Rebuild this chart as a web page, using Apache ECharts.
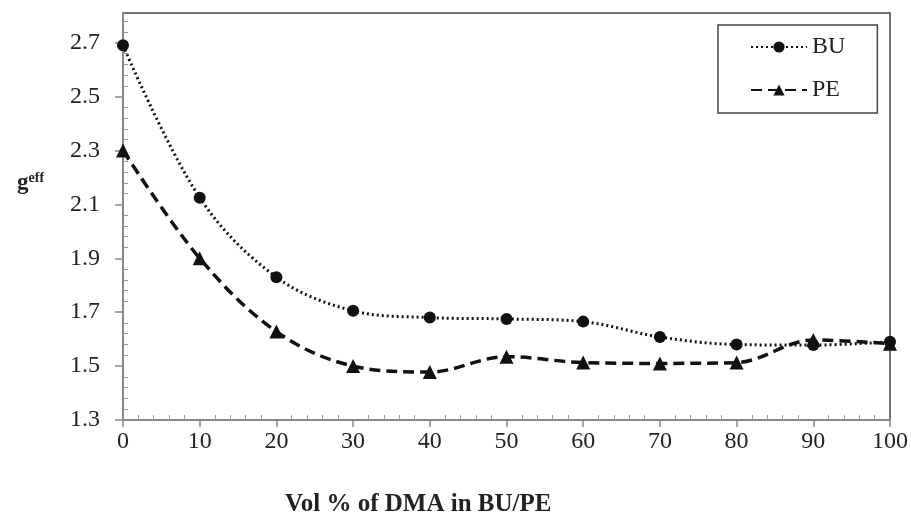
<!DOCTYPE html>
<html>
<head>
<meta charset="utf-8">
<script src="https://cdn.jsdelivr.net/npm/echarts@6/dist/echarts.min.js"></script>
<style>
  html, body { margin: 0; padding: 0; background: #fff; }
  #main { width: 911px; height: 520px; }
</style>
</head>
<body>
<div id="main"></div>
<script>
// data
const xValues = [0, 10, 20, 30, 40, 50, 60, 70, 80, 90, 100];
const buValues = [2.69, 2.125, 1.83, 1.705, 1.68, 1.675, 1.665, 1.608, 1.58, 1.578, 1.59];
const peValues = [2.30, 1.90, 1.628, 1.50, 1.478, 1.535, 1.513, 1.51, 1.513, 1.597, 1.583];

const font = "'Liberation Serif', 'DejaVu Serif', serif";
const pair = (arr) => xValues.map((x, i) => [x, arr[i]]);

let chart = echarts.init(document.getElementById("main"));

let option = {
  backgroundColor: "#fff",
  animation: false,
  title: [
    {
      text: "{g|g}{s|eff}",
      left: 12,
      top: 166,
      textStyle: {
        rich: {
          g: { fontFamily: font, fontWeight: "bold", fontSize: 23, color: "#222", verticalAlign: "bottom" },
          s: { fontFamily: font, fontWeight: "bold", fontSize: 14, color: "#222", verticalAlign: "top", padding: [0, 0, 10, 0] },
        },
      },
    },
    {
      text: "Vol % of DMA in BU/PE",
      left: 285,
      top: 492,
      padding: 0,
      textStyle: { fontFamily: font, fontWeight: "bold", fontSize: 25, color: "#222" },
    },
  ],
  legend: {
    orient: "vertical",
    left: 718,
    top: 25,
    padding: [10, 32, 11, 32],
    itemWidth: 56,
    itemHeight: 14,
    itemGap: 19,
    borderColor: "#444",
    borderWidth: 1.5,
    textStyle: { fontFamily: font, fontSize: 24, color: "#222" },
    data: ["BU", "PE"],
  },
  grid: {
    left: 123,
    right: 21,
    top: 13,
    bottom: 100,
    show: true,
    borderColor: "#444",
    borderWidth: 1.5,
  },
  xAxis: [
    {
      type: "value",
      min: 0,
      max: 100,
      interval: 10,
      axisLine: { lineStyle: { color: "#888", width: 2 } },
      axisTick: { length: 7, lineStyle: { color: "#888", width: 1.5 } },
      axisLabel: { margin: 10, fontFamily: font, fontSize: 24, color: "#222" },
      splitLine: { show: false },
    },
    {
      type: "value",
      position: "bottom",
      min: 0,
      max: 100,
      interval: 10,
      axisLine: { show: false },
      axisTick: { show: false, inside: true },
      minorTick: { show: true, splitNumber: 5, length: 5, lineStyle: { color: "#999", width: 1 } },
      axisLabel: { show: false },
      splitLine: { show: false },
    },
  ],
  yAxis: [
    {
      type: "value",
      min: 1.3,
      max: 2.81,
      interval: 0.2,
      axisLine: { show: true, lineStyle: { color: "#888", width: 2 } },
      axisTick: { show: true, length: 8, lineStyle: { color: "#888", width: 1.5 } },
      axisLabel: {
        margin: 23,
        fontFamily: font,
        fontSize: 24,
        color: "#222",
        showMaxLabel: false,
        formatter: (v) => v.toFixed(1),
      },
      splitLine: { show: false },
    },
    {
      type: "value",
      position: "left",
      min: 1.3,
      max: 2.81,
      interval: 0.2,
      axisLine: { show: false },
      axisTick: { show: false, inside: true },
      minorTick: { show: true, splitNumber: 5, length: 5, lineStyle: { color: "#999", width: 1 } },
      axisLabel: { show: false },
      splitLine: { show: false },
    },
  ],
  series: [
    {
      name: "BU",
      type: "line",
      smooth: 0.35,
      symbol: "circle",
      symbolSize: 12,
      itemStyle: { color: "#111" },
      lineStyle: { color: "#111", width: 3, type: [2, 3] },
      data: pair(buValues),
    },
    {
      name: "PE",
      type: "line",
      smooth: 0.35,
      symbol: "triangle",
      symbolSize: 14,
      itemStyle: { color: "#111" },
      lineStyle: { color: "#111", width: 3.5, type: [11, 6] },
      data: pair(peValues),
    },
  ],
};
option && chart.setOption(option);
</script>
</body>
</html>
